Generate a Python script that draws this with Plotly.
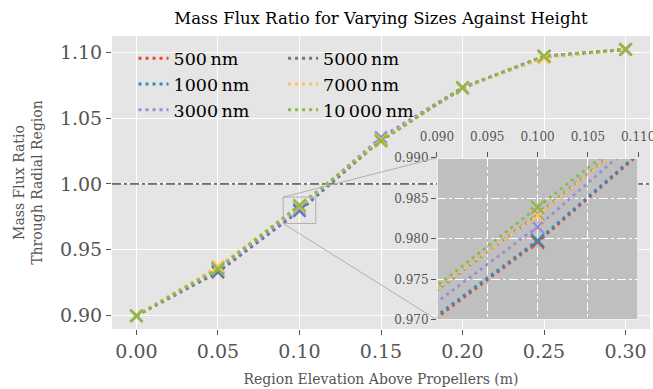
import plotly.graph_objects as go

# ---------------- data ----------------
heights = [0.00, 0.05, 0.10, 0.15, 0.20, 0.25, 0.30]
ratio_500nm = [0.900, 0.9330, 0.9796, 1.0335, 1.0730, 1.0970, 1.1020]
ratio_1000nm = [0.900, 0.9335, 0.9798, 1.0335, 1.0726, 1.0970, 1.1020]
ratio_3000nm = [0.900, 0.9350, 0.9815, 1.0355, 1.0732, 1.0968, 1.1020]
ratio_5000nm = [0.900, 0.9365, 0.9830, 1.0335, 1.0730, 1.0968, 1.1020]
ratio_7000nm = [0.900, 0.9375, 0.9829, 1.0335, 1.0728, 1.0955, 1.1022]
ratio_10000nm = [0.900, 0.9355, 0.9839, 1.0325, 1.0732, 1.0970, 1.1022]

size_labels = ["500\u2009nm", "1000\u2009nm", "3000\u2009nm",
               "5000\u2009nm", "7000\u2009nm", "10\u2009000\u2009nm"]
series = [ratio_500nm, ratio_1000nm, ratio_3000nm,
          ratio_5000nm, ratio_7000nm, ratio_10000nm]
colors = ["#E24A33", "#348ABD", "#988ED5", "#777777", "#FBC15E", "#8EBA42"]

inset_x = [0.09, 0.11]
inset_y = [0.970, 0.990]
inset_xticks = [0.090, 0.095, 0.100, 0.105, 0.110]
inset_yticks = [0.970, 0.975, 0.980, 0.985, 0.990]
main_xticks = [0.00, 0.05, 0.10, 0.15, 0.20, 0.25, 0.30]
main_yticks = [0.90, 0.95, 1.00, 1.05, 1.10]
reference_ratio = 1.0

# ---------------- layout constants ----------------
W, H = 653, 389
ML, MR, MT, MB = 112, 3, 36, 60
FONT = "DejaVu Serif"
GRAY = "#555555"

allv = [v for s in series for v in s]
xspan = max(heights) - min(heights)
yspan = max(allv) - min(allv)
xr = [min(heights) - 0.05 * xspan, max(heights) + 0.05 * xspan]
yr = [min(allv) - 0.05 * yspan, max(allv) + 0.05 * yspan]

inset_dom_x = [0.604, 0.978]
inset_dom_y = [0.031, 0.584]

fig = go.Figure()

# reference line at ratio 1 (drawn under the data)
fig.add_trace(go.Scatter(
    x=xr, y=[reference_ratio, reference_ratio], mode="lines",
    line=dict(color="black", width=1, dash="dashdot"),
    showlegend=False, hoverinfo="skip", xaxis="x", yaxis="y"))

for i, (lab, s, c) in enumerate(zip(size_labels, series, colors)):
    leg = "legend" if i < 3 else "legend2"
    fig.add_trace(go.Scatter(
        x=heights, y=s, mode="lines", name=lab, legend=leg,
        line=dict(color=c, width=2.8, dash="3px,4px"),
        xaxis="x", yaxis="y"))
    fig.add_trace(go.Scatter(
        x=heights, y=s, mode="markers", showlegend=False,
        marker=dict(symbol="x-thin", size=12, color=c,
                    line=dict(width=2.2, color=c)),
        xaxis="x", yaxis="y", hoverinfo="skip"))

for i, (lab, s, c) in enumerate(zip(size_labels, series, colors)):
    fig.add_trace(go.Scatter(
        x=heights, y=s, mode="lines+markers", showlegend=False,
        line=dict(color=c, width=2.8, dash="3px,4px"),
        marker=dict(symbol="x-thin", size=13, color=c,
                    line=dict(width=2.2, color=c)),
        xaxis="x2", yaxis="y2"))


def to_paper(x, y):
    px = (x - xr[0]) / (xr[1] - xr[0])
    py = (y - yr[0]) / (yr[1] - yr[0])
    return px, py


shapes = []
# inset background (drawn below the inset grid, above the main plot)
shapes.append(dict(type="rect", xref="x2", yref="y2",
                   x0=inset_x[0], x1=inset_x[1], y0=inset_y[0], y1=inset_y[1],
                   fillcolor="#bfbfbf", line=dict(width=0), layer="below"))
shapes.append(dict(type="rect", xref="x2", yref="y2",
                   x0=inset_x[0], x1=inset_x[1], y0=inset_y[0], y1=inset_y[1],
                   line=dict(width=1.5, color="white"), layer="above"))
# indicator rectangle
shapes.append(dict(type="rect", xref="x", yref="y",
                   x0=inset_x[0], x1=inset_x[1], y0=inset_y[0], y1=inset_y[1],
                   line=dict(width=1, color="#b0b0b0"), layer="above"))
# connector lines
p_tl = to_paper(inset_x[0], inset_y[1])
p_bl = to_paper(inset_x[0], inset_y[0])
shapes.append(dict(type="line", xref="paper", yref="paper",
                   x0=p_tl[0], y0=p_tl[1], x1=inset_dom_x[0], y1=inset_dom_y[1],
                   line=dict(width=1, color="#b0b0b0"), layer="above"))
shapes.append(dict(type="line", xref="paper", yref="paper",
                   x0=p_bl[0], y0=p_bl[1], x1=inset_dom_x[0], y1=inset_dom_y[0],
                   line=dict(width=1, color="#b0b0b0"), layer="above"))

axis_common = dict(showline=False, zeroline=False, gridcolor="white",
                   gridwidth=1, ticks="outside", ticklen=5, tickwidth=1,
                   tickcolor=GRAY, ticklabeloverflow="allow")

fig.update_layout(
    width=W, height=H,
    margin=dict(l=ML, r=MR, t=MT, b=MB, autoexpand=False),
    paper_bgcolor="white", plot_bgcolor="#E5E5E5",
    font=dict(family=FONT, color=GRAY),
    title=dict(text="Mass Flux Ratio for Varying Sizes Against Height",
               font=dict(family=FONT, size=16.5, color="black"),
               x=0.5, xref="paper", xanchor="center",
               y=1 - 18 / H, yref="container", yanchor="middle"),
    xaxis=dict(axis_common, domain=[0, 1], range=xr, tickvals=main_xticks,
               tickformat=".2f", tickfont=dict(size=19, color=GRAY),
               title=dict(text="Region Elevation Above Propellers (m)",
                          font=dict(size=14, color=GRAY), standoff=13),
               anchor="y"),
    yaxis=dict(axis_common, domain=[0, 1], range=yr, tickvals=main_yticks,
               tickformat=".2f", tickfont=dict(size=19, color=GRAY),
               title=dict(text="Mass Flux Ratio<br>Through Radial Region",
                          font=dict(size=14, color=GRAY), standoff=13),
               anchor="x"),
    xaxis2=dict(axis_common, domain=inset_dom_x, range=inset_x, side="top",
                tickvals=inset_xticks, tickformat=".3f",
                tickfont=dict(size=12, color=GRAY), griddash="dashdot",
                ticklabelstandoff=6, anchor="y2"),
    yaxis2=dict(axis_common, domain=inset_dom_y, range=inset_y,
                tickvals=inset_yticks, tickformat=".3f",
                tickfont=dict(size=12, color=GRAY), griddash="dashdot",
                anchor="x2"),
    legend=dict(x=0.04, y=0.985, xanchor="left", yanchor="top",
                bgcolor="rgba(0,0,0,0)",
                font=dict(size=17.5, color="black", family=FONT),
                tracegroupgap=0),
    legend2=dict(x=0.318, y=0.985, xanchor="left", yanchor="top",
                 bgcolor="rgba(0,0,0,0)",
                 font=dict(size=17.5, color="black", family=FONT),
                 tracegroupgap=0),
    shapes=shapes,
)

fig.write_html("out.html",
               config={"displayModeBar": False},
               post_script="document.body.style.margin='0';"
                           "document.body.style.padding='0';")
